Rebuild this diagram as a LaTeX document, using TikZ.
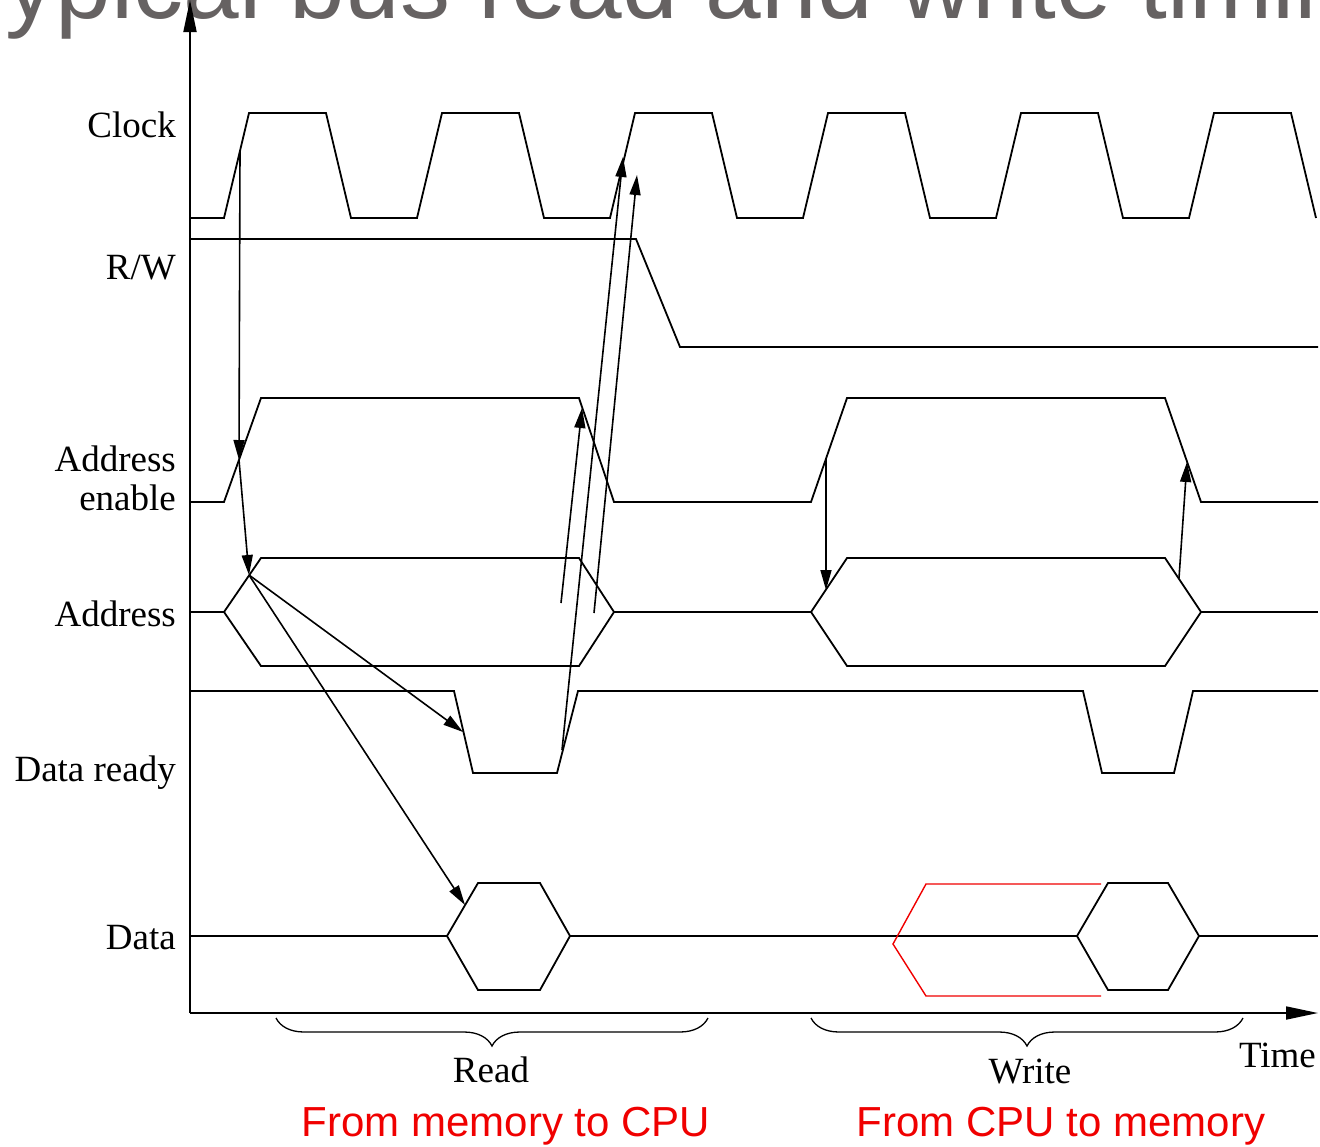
\documentclass[tikz,border=0pt]{standalone}
\usepackage{fontspec}
\setmainfont{Liberation Serif}
\newfontfamily\sansf{Liberation Sans}
\usetikzlibrary{arrows.meta,decorations.pathreplacing}
\definecolor{titlegray}{RGB}{102,98,98}
\definecolor{hotred}{RGB}{240,0,0}
\begin{document}
\begin{tikzpicture}[x=1pt,y=-1pt,
  sig/.style={line width=1.8pt, line join=miter},
  redsig/.style={line width=1.4pt, draw=hotred},
  axisline/.style={line width=1.8pt,-{Triangle[length=32pt,width=13pt]}},
  arr/.style={line width=1.6pt,-{Triangle[length=20pt,width=11pt]}},
  lab/.style={font=\fontsize{37}{39}\selectfont, inner sep=0pt},
  redlab/.style={font=\sansf\fontsize{42}{46}\selectfont, text=hotred, inner sep=0pt},
  bracestyle/.style={line width=1.3pt, decorate, decoration={brace, mirror, amplitude=28pt}}]
\useasboundingbox (0,0) rectangle (1320,1146);

% title (cut off at the top, as in the reference)
\node[anchor=base west, inner sep=0pt, text=titlegray,
      font=\sansf\fontsize{100}{104}\selectfont] (title) at (-50,18) {Typical bus read and write timing};

% axes
\coordinate (origin) at (190,1013);
\coordinate (ytop) at (190,0);
\coordinate (xend) at (1318,1013);
\draw[axisline] (origin) -- (ytop);
\draw[axisline] (origin) -- (xend);

% clock
\draw[sig] (190,218) -- (224,218) -- (249,113) -- (326,113) -- (351,218)
  -- (417,218) -- (442,113) -- (519,113) -- (544,218)
  -- (610,218) -- (635,113) -- (712,113) -- (737,218)
  -- (803,218) -- (828,113) -- (905,113) -- (930,218)
  -- (996,218) -- (1021,113) -- (1098,113) -- (1123,218)
  -- (1189,218) -- (1214,113) -- (1291,113) -- (1316,218);

% R/W
\draw[sig] (190,239) -- (636,239) -- (680,347) -- (1318,347);

% address enable
\draw[sig] (190,502) -- (224,502) -- (261,398) -- (579,398) -- (614,502)
  -- (811,502) -- (847,398) -- (1165,398) -- (1201,502) -- (1318,502);

% address
\draw[sig] (190,612) -- (224,612);
\draw[sig] (224,612) -- (261,558) -- (579,558) -- (614,612) -- (579,666) -- (261,666) -- cycle;
\draw[sig] (614,612) -- (811,612);
\draw[sig] (811,612) -- (847,558) -- (1165,558) -- (1201,612) -- (1165,666) -- (847,666) -- cycle;
\draw[sig] (1201,612) -- (1318,612);

% data ready
\draw[sig] (190,691) -- (454,691) -- (473,773) -- (557,773) -- (578,691)
  -- (1083,691) -- (1102,773) -- (1174,773) -- (1193,691) -- (1318,691);

% data
\draw[sig] (190,936) -- (447,936);
\draw[sig] (447,936) -- (478,883) -- (540,883) -- (570,936) -- (540,990) -- (478,990) -- cycle;
\draw[sig] (570,936) -- (1077,936);
\draw[sig] (1077,936) -- (1108,883) -- (1168,883) -- (1199,936) -- (1168,990) -- (1108,990) -- cycle;
\draw[sig] (1199,936) -- (1318,936);

% red write-data window
\draw[redsig] (1101,884) -- (926,884) -- (893,944) -- (926,996) -- (1101,996);

% causal arrows - read
\coordinate (clkA) at (240,150);
\coordinate (aeA) at (239,460);
\coordinate (adA) at (249,575);
\coordinate (drA) at (463,732);
\coordinate (dA) at (465,905);
\coordinate (drB) at (562,750);
\coordinate (clkB) at (623,157);
\coordinate (fA) at (561,603);
\coordinate (aeB) at (582,408);
\coordinate (fB) at (594,613);
\coordinate (fC) at (637,175);
\draw[arr] (clkA) -- (aeA);
\draw[arr] (aeA) -- (adA);
\draw[arr] (adA) -- (drA);
\draw[arr] (adA) -- (dA);
\draw[arr] (drB) -- (clkB);
\draw[arr] (fA) -- (aeB);
\draw[arr] (fB) -- (fC);

% causal arrows - write
\coordinate (aeC) at (826,459);
\coordinate (adC) at (826,590);
\coordinate (adD) at (1179,578);
\coordinate (aeD) at (1187,462);
\draw[arr] (aeC) -- (adC);
\draw[arr] (adD) -- (aeD);

% signal labels
\node[lab, anchor=base east] (lclock) at (176,137) {Clock};
\node[lab, anchor=base east] (lrw) at (176,279) {R/W};
\node[lab, anchor=east, align=right] (lae) at (176,478) {Address\\enable};
\node[lab, anchor=base east] (laddr) at (176,626) {Address};
\node[lab, anchor=base east] (ldr) at (176,781) {Data ready};
\node[lab, anchor=base east] (ldata) at (176,949) {Data};

% braces
\coordinate (rbA) at (276,1018);
\coordinate (rbB) at (708,1018);
\coordinate (wbA) at (811,1018);
\coordinate (wbB) at (1243,1018);
\draw[bracestyle] (rbA) -- (rbB);
\draw[bracestyle] (wbA) -- (wbB);

\node[lab, anchor=base] (lread) at (491,1082) {Read};
\node[lab, anchor=base] (lwrite) at (1030,1083) {Write};
\node[lab, anchor=base east] (ltime) at (1316,1067) {Time};
\node[redlab, anchor=base] (lrm) at (506,1136) {From memory to CPU};
\node[redlab, anchor=base] (lrc) at (1061,1136) {From CPU to memory};
\end{tikzpicture}
\end{document}
